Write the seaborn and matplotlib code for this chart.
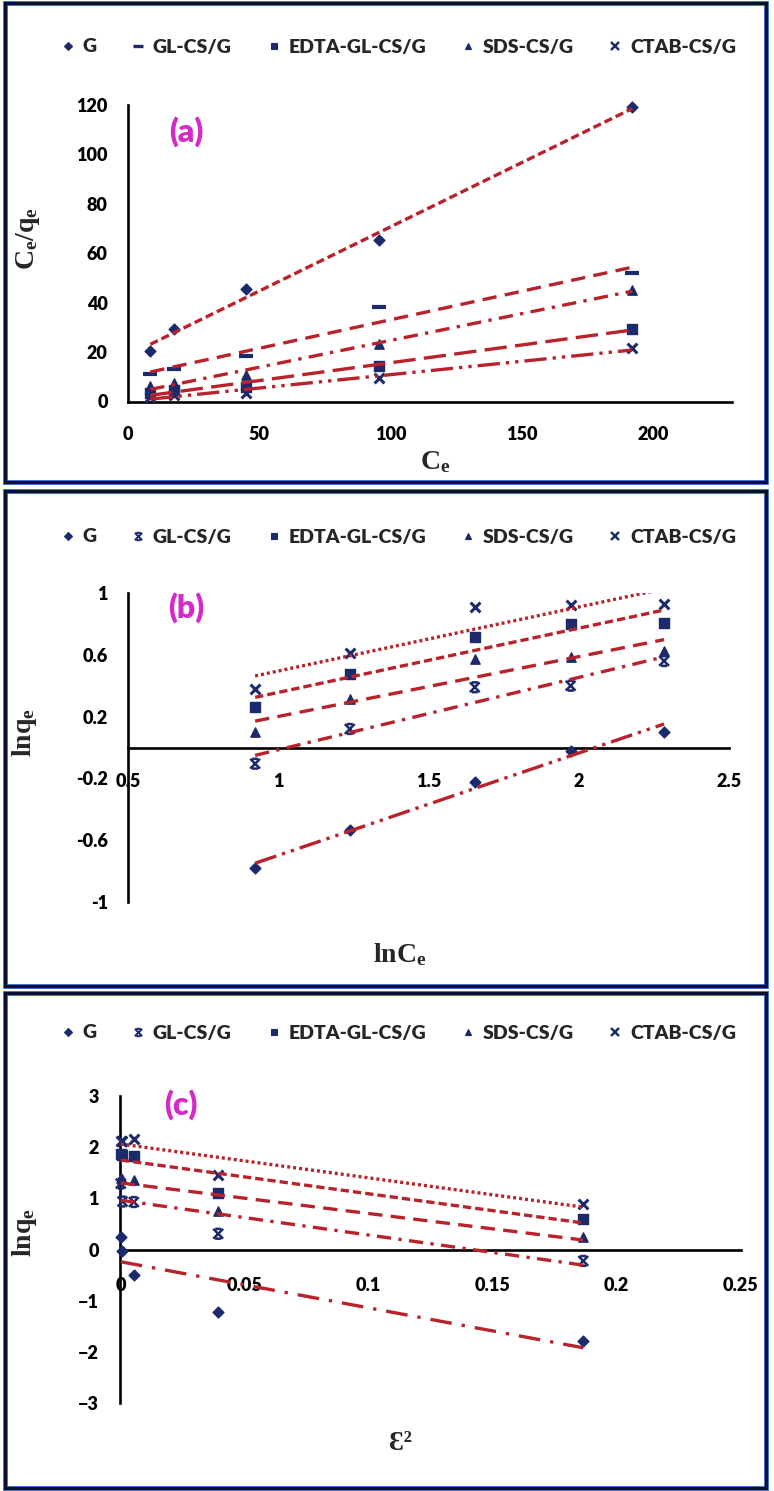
import matplotlib
matplotlib.use("Agg")
import matplotlib.pyplot as plt
import pandas as pd
import seaborn as sns
from matplotlib.lines import Line2D
from matplotlib.markers import MarkerStyle
from matplotlib.patches import Rectangle
from matplotlib.path import Path
from matplotlib.ticker import MultipleLocator, FormatStrFormatter

sns.set_style("white")
plt.rcParams["font.family"] = ["Lato", "DejaVu Sans"]
plt.rcParams["font.weight"] = "heavy"
plt.rcParams["mathtext.fontset"] = "custom"
plt.rcParams["mathtext.rm"] = "Liberation Serif:bold"
plt.rcParams["mathtext.it"] = "Liberation Serif:bold"
plt.rcParams["mathtext.bf"] = "Liberation Serif:bold"

series = ["G", "GL-CS/G", "EDTA-GL-CS/G", "SDS-CS/G", "CTAB-CS/G"]

# (a) Ce/qe against Ce
ce = [8.5, 17.4, 45, 95.4, 192]
a_g = [20.5, 29.2, 45.7, 65.3, 119.2]
a_gl = [11.2, 13.1, 18.4, 38.1, 51.9]
a_edta = [3.5, 4.5, 6.0, 14.5, 29.5]
a_sds = [6.1, 7.5, 10.7, 23.4, 45.2]
a_ctab = [2.0, 2.5, 3.5, 9.5, 21.5]

# (b) lnqe against lnCe
ln_ce = [0.923, 1.238, 1.654, 1.973, 2.284]
b_g = [-0.78, -0.535, -0.224, -0.02, 0.103]
b_gl = [-0.105, 0.12, 0.39, 0.40, 0.56]
b_edta = [0.26, 0.475, 0.716, 0.80, 0.808]
b_sds = [0.099, 0.314, 0.572, 0.583, 0.626]
b_ctab = [0.379, 0.609, 0.91, 0.923, 0.927]

# (c) lnqe against eps^2
eps2 = [0.0001, 0.0008, 0.0054, 0.0394, 0.1866]
c_g = [0.25, -0.03, -0.5, -1.21, -1.78]
c_gl = [1.29, 0.94, 0.93, 0.31, -0.22]
c_edta = [1.86, 1.84, 1.82, 1.10, 0.60]
c_sds = [1.39, 1.37, 1.36, 0.76, 0.25]
c_ctab = [2.13, 2.13, 2.17, 1.45, 0.90]

NAVY = "#1b2a6b"
RED = "#b8222b"
MAGENTA = "#d62ac6"
W, H = 774, 1491

# excel-ish "star" marker: an x with short bars top and bottom
star = MarkerStyle(Path([(-1, -1), (1, 1), (-1, 1), (1, -1), (-0.6, 1), (0.6, 1), (-0.6, -1), (0.6, -1)],
                        [Path.MOVETO, Path.LINETO] * 4), fillstyle="none")

mk = {"G": ("D", 30, 1.0), "dash": ("_", 90, 3.0), "star": (star, 50, 1.8),
      "EDTA-GL-CS/G": ("s", 45, 1.0), "SDS-CS/G": ("^", 45, 1.0), "CTAB-CS/G": ("x", 50, 2.2)}

dot = (0, (0.9, 0.9))
sdash = (0, (2.5, 1.2))
mdash = (0, (4.3, 2.5))
ldash = (0, (6.7, 2.5))
dashdot = (0, (4.3, 2.2, 1, 2.2))
ldashdot = (0, (6.5, 3, 1, 3))
ldashdotdot = (0, (6.7, 1.8, 1, 1.8, 1, 1.8))

fig = plt.figure(figsize=(W / 100, H / 100), dpi=100)


def px_axes(x0, y_top, x1, y_bot):
    return fig.add_axes([x0 / W, 1 - y_bot / H, (x1 - x0) / W, (y_bot - y_top) / H])


def draw(ax, x, ys, markers, styles):
    for name, y, m, ls in zip(series, ys, markers, styles):
        d = pd.DataFrame({"x": x, "y": y})
        marker, size, lw = mk[m]
        sns.scatterplot(data=d, x="x", y="y", ax=ax, marker=marker, s=size, color=NAVY,
                        edgecolor=NAVY, linewidth=lw, zorder=3, clip_on=False)
        sns.regplot(data=d, x="x", y="y", ax=ax, scatter=False, ci=None, truncate=True,
                    line_kws=dict(color=RED, lw=2.4, linestyle=ls, zorder=4))
    ax.set_xlabel("")
    ax.set_ylabel("")
    for s in ["top", "right"]:
        ax.spines[s].set_visible(False)
    for s in ["left", "bottom"]:
        ax.spines[s].set_color("black")
        ax.spines[s].set_linewidth(1.9)
    ax.tick_params(labelsize=13, width=1.9, colors="black")


def legend(ax, markers, y_px, x_px):
    handles = []
    for m in markers:
        marker, size, lw = mk[m]
        handles.append(Line2D([], [], ls="none", marker=marker, color=NAVY, mec=NAVY,
                              markersize=(size ** 0.5) * 0.75, mew=lw * 0.8))
    ax.legend(handles, series, loc="center", bbox_to_anchor=(x_px / W, 1 - y_px / H),
              bbox_transform=fig.transFigure, ncol=5, frameon=False, handlelength=0.8,
              handletextpad=0.35, columnspacing=1.75, prop=dict(size=14, weight="heavy"))


def border(y0, y1):
    for lw, c in [(3.4, "#2a5fd0"), (2.2, "#0b1033")]:
        fig.patches.append(Rectangle((5 / W, 1 - y1 / H), 761 / W, (y1 - y0) / H, fill=False,
                                     lw=lw, edgecolor=c, transform=fig.transFigure, zorder=0))


# ---- panel (a)
ax = px_axes(128, 105, 732, 401.5)
draw(ax, ce, [a_g, a_gl, a_edta, a_sds, a_ctab],
     ["G", "dash", "EDTA-GL-CS/G", "SDS-CS/G", "CTAB-CS/G"],
     [sdash, mdash, ldash, dashdot, ldashdotdot])
ax.set_xlim(0, 230)
ax.set_ylim(0, 120)
ax.xaxis.set_major_locator(MultipleLocator(50))
ax.xaxis.set_minor_locator(MultipleLocator(10))
ax.yaxis.set_major_locator(MultipleLocator(20))
ax.tick_params(axis="x", which="both", direction="inout", length=7, width=1.9, pad=14)
ax.tick_params(axis="y", direction="out", length=4.5, pad=10)
legend(ax, ["G", "dash", "EDTA-GL-CS/G", "SDS-CS/G", "CTAB-CS/G"], 47, 398)

# ---- panel (b)
ax = px_axes(128, 593, 729, 902)
draw(ax, ln_ce, [b_g, b_gl, b_edta, b_sds, b_ctab],
     ["G", "star", "EDTA-GL-CS/G", "SDS-CS/G", "CTAB-CS/G"],
     [ldashdotdot, dashdot, sdash, mdash, dot])
ax.set_xlim(0.5, 2.5)
ax.set_ylim(-1, 1)
ax.spines["bottom"].set_position(("data", 0))
ax.xaxis.set_major_locator(MultipleLocator(0.5))
ax.xaxis.set_minor_locator(MultipleLocator(0.1))
ax.xaxis.set_major_formatter(FormatStrFormatter("%g"))
ax.set_yticks([-1, -0.6, -0.2, 0.2, 0.6, 1])
ax.yaxis.set_major_formatter(FormatStrFormatter("%g"))
ax.tick_params(axis="x", which="both", direction="inout", length=7, width=1.9, pad=15)
ax.tick_params(axis="y", direction="out", length=4.5, pad=10)
legend(ax, ["G", "star", "EDTA-GL-CS/G", "SDS-CS/G", "CTAB-CS/G"], 537, 398)

# ---- panel (c)
ax = px_axes(120.5, 1096, 740.5, 1403.3)
draw(ax, eps2, [c_g, c_gl, c_edta, c_sds, c_ctab],
     ["G", "star", "EDTA-GL-CS/G", "SDS-CS/G", "CTAB-CS/G"],
     [ldashdot, dashdot, sdash, mdash, dot])
ax.set_xlim(0, 0.25)
ax.set_ylim(-3, 3)
ax.spines["bottom"].set_position(("data", 0))
ax.xaxis.set_major_locator(MultipleLocator(0.05))
ax.xaxis.set_major_formatter(FormatStrFormatter("%g"))
ax.yaxis.set_major_locator(MultipleLocator(1))
ax.tick_params(axis="x", direction="out", length=5.5, pad=14)
ax.tick_params(axis="y", direction="out", length=4.5, pad=11)
legend(ax, ["G", "star", "EDTA-GL-CS/G", "SDS-CS/G", "CTAB-CS/G"], 1033, 398)

# panel tags and axis titles
for tag, x, y in [("(a)", 186, 132), ("(b)", 186, 608), ("(c)", 181, 1105)]:
    fig.text(x / W, 1 - y / H, tag, color=MAGENTA, fontsize=23, weight="heavy",
             ha="center", va="center")

lab = dict(fontsize=20, ha="center", va="center")
fig.text(28 / W, 1 - 238 / H, r"$\mathbf{C_e/q_e}$", rotation=90, **lab)
fig.text(435 / W, 1 - 462 / H, r"$\mathbf{C_e}$", **lab)
fig.text(25 / W, 1 - 733 / H, r"$\mathbf{lnq_e}$", rotation=90, **lab)
fig.text(400 / W, 1 - 955 / H, r"$\mathbf{lnC_e}$", **lab)
fig.text(25 / W, 1 - 1233 / H, r"$\mathbf{lnq_e}$", rotation=90, **lab)
fig.text(400 / W, 1 - 1443 / H, "Ɛ²", family=["Liberation Serif", "DejaVu Serif"],
         weight="bold", **lab)

border(3, 482)
border(491, 986)
border(993, 1488)

fig.savefig("out.png", dpi=100, facecolor="white")
